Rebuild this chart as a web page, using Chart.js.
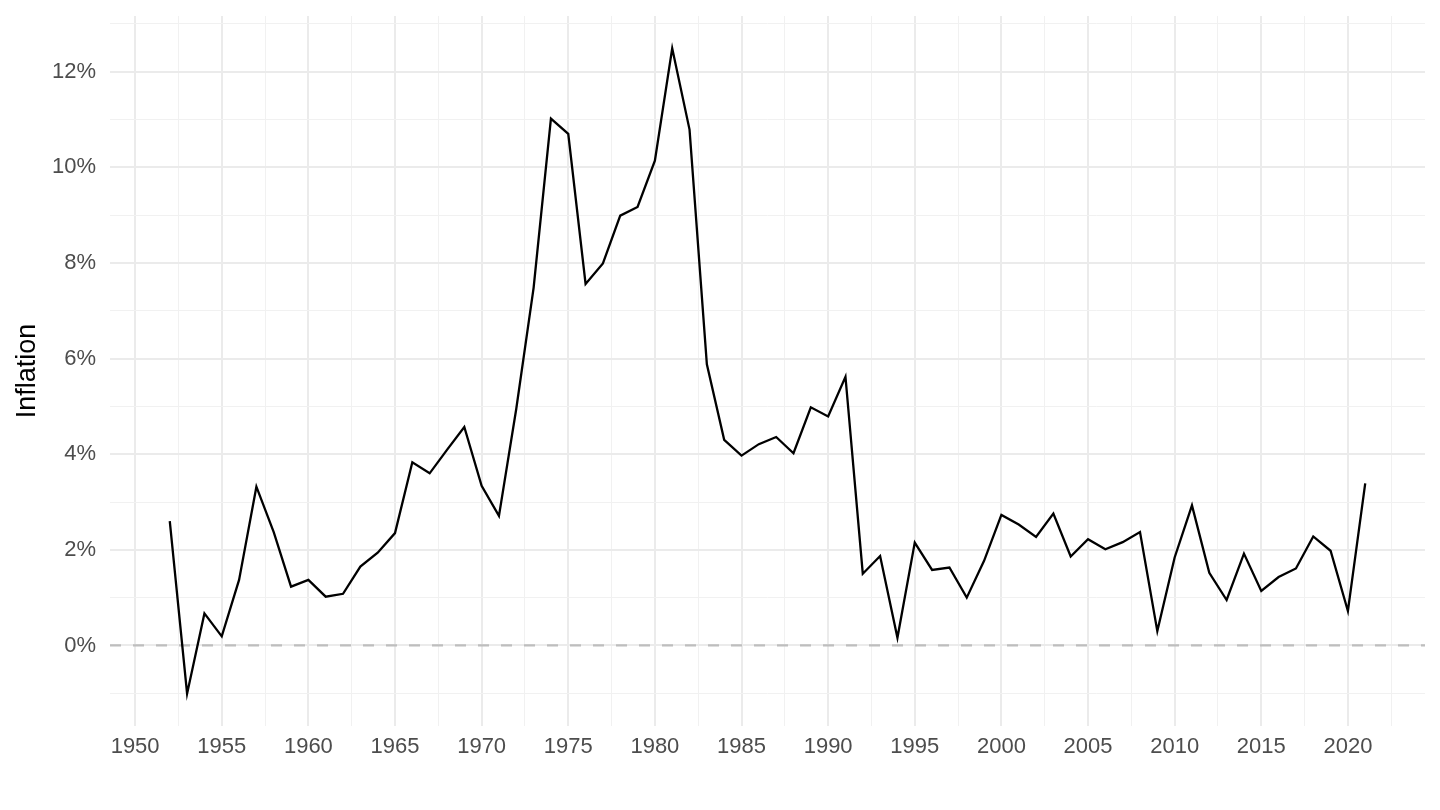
<!DOCTYPE html>
<html>
<head>
<meta charset="utf-8">
<script src="https://cdn.jsdelivr.net/npm/chart.js@4"></script>
<style>
  html, body { margin: 0; padding: 0; background: #fff; }
  #wrap { width: 1440px; height: 810px; }
</style>
</head>
<body>
<div id="wrap"><canvas id="inflationChart" width="1440" height="810"></canvas></div>
<script>
const years = [
  1952, 1953, 1954, 1955, 1956, 1957, 1958, 1959, 1960, 1961,
  1962, 1963, 1964, 1965, 1966, 1967, 1968, 1969, 1970, 1971,
  1972, 1973, 1974, 1975, 1976, 1977, 1978, 1979, 1980, 1981,
  1982, 1983, 1984, 1985, 1986, 1987, 1988, 1989, 1990, 1991,
  1992, 1993, 1994, 1995, 1996, 1997, 1998, 1999, 2000, 2001,
  2002, 2003, 2004, 2005, 2006, 2007, 2008, 2009, 2010, 2011,
  2012, 2013, 2014, 2015, 2016, 2017, 2018, 2019, 2020, 2021
];
// inflation, percent
const inflation = [
  2.60, -1.01, 0.67, 0.19, 1.37, 3.32, 2.37, 1.23, 1.37, 1.02,
  1.08, 1.65, 1.94, 2.35, 3.83, 3.60, 4.09, 4.57, 3.34, 2.71,
  4.95, 7.48, 11.02, 10.70, 7.56, 7.99, 8.99, 9.17, 10.14, 12.49,
  10.79, 5.88, 4.30, 3.97, 4.21, 4.36, 4.02, 4.98, 4.79, 5.62,
  1.50, 1.87, 0.16, 2.15, 1.58, 1.63, 1.00, 1.77, 2.73, 2.53,
  2.27, 2.76, 1.86, 2.22, 2.01, 2.16, 2.37, 0.30, 1.84, 2.93,
  1.52, 0.95, 1.92, 1.14, 1.43, 1.61, 2.28, 1.98, 0.72, 3.39
];
const yTickLabels = ["0%", "2%", "4%", "6%", "8%", "10%", "12%"];
const xTickLabels = ["1950", "1955", "1960", "1965", "1970", "1975", "1980", "1985",
                     "1990", "1995", "2000", "2005", "2010", "2015", "2020"];

const points = years.map((y, i) => ({ x: y, y: inflation[i] }));

// ggplot-like 5% expansion of the data range
const xPad = (years[years.length - 1] - years[0]) * 0.05;
const yMin = Math.min(...inflation), yMax = Math.max(...inflation);
const yPad = (yMax - yMin) * 0.05;

const TICK_FONT = { family: "'Liberation Sans', Arial, sans-serif", size: 22 };

const isMajorX = v => Math.abs(v / 5 - Math.round(v / 5)) < 1e-6;
const isMajorY = v => Math.abs(v / 2 - Math.round(v / 2)) < 1e-6;

const zeroLine = {
  id: "zeroLine",
  beforeDatasetsDraw(chart) {
    const { ctx, chartArea, scales } = chart;
    const y = scales.y.getPixelForValue(0);
    ctx.save();
    ctx.strokeStyle = "#BEBEBE";
    ctx.lineWidth = 2.2;
    ctx.setLineDash([11, 12]);
    ctx.beginPath();
    ctx.moveTo(chartArea.left, y);
    ctx.lineTo(chartArea.right, y);
    ctx.stroke();
    ctx.restore();
  }
};

const ctx = document.getElementById("inflationChart").getContext("2d");
new Chart(ctx, {
  type: "line",
  data: {
    datasets: [{
      label: "Inflation",
      data: points,
      borderColor: "#000000",
      borderWidth: 2.3,
      pointRadius: 0,
      tension: 0,
      fill: false
    }]
  },
  options: {
    responsive: false,
    animation: false,
    devicePixelRatio: 1,
    layout: { padding: { top: 16, right: 15, left: 0, bottom: 0 } },
    plugins: { legend: { display: false }, tooltip: { enabled: false } },
    scales: {
      x: {
        type: "linear",
        min: years[0] - xPad,
        max: years[years.length - 1] + xPad,
        afterFit: s => { s.height = 84; s.paddingLeft = 0; s.paddingRight = 0; },
        border: { display: false },
        grid: {
          drawTicks: false,
          color: c => isMajorX(c.tick.value) ? "#EBEBEB" : "#F1F1F1",
          lineWidth: c => isMajorX(c.tick.value) ? 2 : 1
        },
        ticks: {
          stepSize: 2.5,
          includeBounds: false,
          autoSkip: false,
          maxRotation: 0,
          padding: 8,
          color: "#4D4D4D",
          font: TICK_FONT,
          callback: v => {
            const s = String(Math.round(v));
            return isMajorX(v) && xTickLabels.includes(s) ? s : "";
          }
        }
      },
      y: {
        type: "linear",
        min: yMin - yPad,
        max: yMax + yPad,
        afterFit: s => { s.width = 110; s.paddingTop = 0; s.paddingBottom = 0; },
        border: { display: false },
        grid: {
          drawTicks: false,
          color: c => isMajorY(c.tick.value) ? "#EBEBEB" : "#F1F1F1",
          lineWidth: c => isMajorY(c.tick.value) ? 2 : 1
        },
        ticks: {
          stepSize: 1,
          includeBounds: false,
          autoSkip: false,
          padding: 14,
          color: "#4D4D4D",
          font: TICK_FONT,
          callback: v => {
            const s = Math.round(v) + "%";
            return isMajorY(v) && yTickLabels.includes(s) ? s : "";
          }
        },
        title: {
          display: true,
          text: "Inflation",
          color: "#000000",
          font: { family: "'Liberation Sans', Arial, sans-serif", size: 27 },
          padding: { top: 11, bottom: 0 }
        }
      }
    }
  },
  plugins: [zeroLine]
});
</script>
</body>
</html>
